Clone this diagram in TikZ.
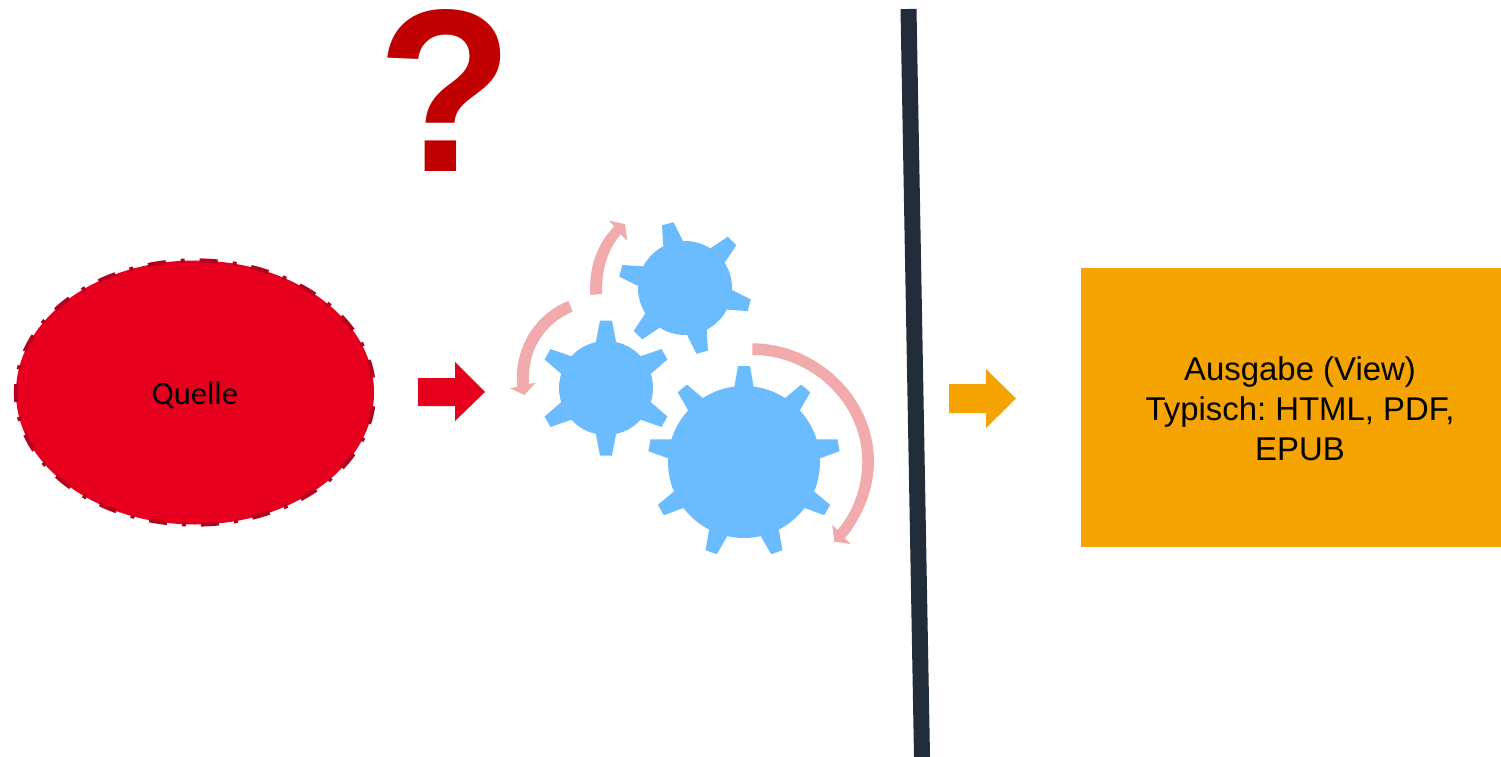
\documentclass[tikz,border=0pt]{standalone}
\usepackage{fontspec}
\setmainfont{Liberation Sans}
\newfontfamily\carlitofont{Carlito}
\usetikzlibrary{shapes.geometric}
\definecolor{quelle}{HTML}{E6001E}
\definecolor{quelleline}{HTML}{B5001E}
\definecolor{orangeb}{HTML}{F5A300}
\definecolor{gearblue}{HTML}{6BBBFF}
\definecolor{spin}{HTML}{F1ABAD}
\definecolor{qmark}{HTML}{C00000}
\definecolor{wall}{HTML}{212D38}
\tikzset{
  gearfill/.style={fill=gearblue,draw=none},
  spinarrow/.style={fill=spin,draw=none},
  zoomed/.style={shift={(500,200)},x=0.3333pt,y=-0.3333pt}
}
\newcommand{\gearshape}[8]{% cx cy body outer basew tipw teeth first-angle
  \fill[gearfill] (#1,#2) circle[radius=#3];
  \foreach \k in {1,...,#7}{
    \pgfmathsetmacro{\ang}{#8+\k*360/#7}
    \fill[gearfill,shift={(#1,#2)},rotate=\ang]
      ({#3-3},{-0.5*#5}) -- (#4,{-0.5*#6}) -- (#4,{0.5*#6}) -- ({#3-3},{0.5*#5}) -- cycle;
  }
}
\begin{document}
\frenchspacing
\begin{tikzpicture}[x=1pt,y=-1pt]
\useasboundingbox (0,0) rectangle (1501,757);
% source
\node[ellipse,draw=quelleline,fill=quelle,line width=4.3pt,
      dash pattern=on 18pt off 15pt on 4pt off 15pt,dash phase=37pt,
      minimum width=358pt,minimum height=264pt,inner sep=0pt,
      font=\carlitofont\fontsize{32.5}{38}\selectfont] (quelle) at (195,392.5) {\rule{0pt}{28pt}Quelle};
% question mark
\node[text=qmark,font=\bfseries\fontsize{232}{232}\selectfont,inner sep=0pt,xscale=0.96,transform shape] (frage) at (446,91) {?};
% block arrows
\fill[quelle] (418,378) -- (455,378) -- (455,362) -- (485,392) -- (455,421) -- (455,406) -- (418,406) -- cycle;
\fill[orangeb] (949,384) -- (986,384) -- (986,369) -- (1016,398.5) -- (986,428) -- (986,413) -- (949,413) -- cycle;
% wall
\draw[wall,line width=16pt] (908.5,9) -- (922,757);
% output
\node[fill=orangeb,minimum width=420pt,minimum height=279pt,inner sep=0pt,anchor=north west] (ausgabe) at (1081,268) {};
\node[align=center,font=\fontsize{32.9}{40}\selectfont,inner sep=0pt] (ausgabetext) at (1300,409)
  {Ausgabe (View)\\Typisch: HTML, PDF,\\EPUB};
% gears
\gearshape{744}{462}{76}{96}{20}{12}{9}{90}
\gearshape{606}{388}{47}{67.5}{21}{12}{6}{90}
\gearshape{685}{288}{47}{66.5}{21}{12}{6}{105}
% rotation arrows, in the coordinates of a 3x crop
\begin{scope}[zoomed]
\fill[spinarrow] (757,430) .. controls (950,430) and (1122,590) .. (1122,785)
  .. controls (1122,870) and (1085,955) .. (1035,1015) -- (1053,1032) -- (1003,1025) -- (997,975) -- (1013,990)
  .. controls (1060,935) and (1087,860) .. (1087,785)
  .. controls (1087,610) and (935,465) .. (757,465) -- cycle;
\fill[spinarrow] (205,303) .. controls (110,340) and (40,440) .. (52,560) -- (30,565) -- (73,585) -- (108,548) -- (87,552)
  .. controls (80,450) and (135,370) .. (218,335) -- cycle;
\fill[spinarrow] (271,285) .. controls (265,200) and (295,125) .. (343,80) -- (327,62) -- (375,72) -- (382,122) -- (362,103)
  .. controls (325,145) and (303,210) .. (307,282) -- cycle;
\end{scope}
\end{tikzpicture}
\end{document}
